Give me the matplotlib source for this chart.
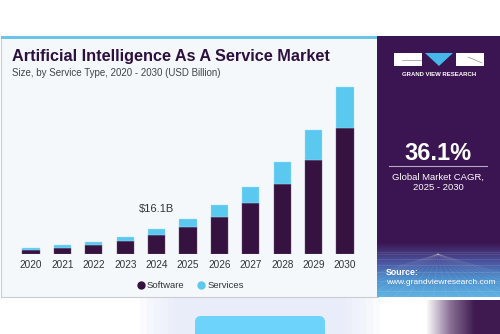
import matplotlib
matplotlib.use("Agg")
import matplotlib.pyplot as plt
import numpy as np
from matplotlib.patches import Rectangle, Polygon, FancyBboxPatch
from matplotlib.lines import Line2D
from matplotlib.colors import LinearSegmentedColormap

years = ["2020", "2021", "2022", "2023", "2024", "2025", "2026", "2027", "2028", "2029", "2030"]
software = [2.8, 4.1, 6.0, 8.6, 12.4, 17.2, 24.0, 33.0, 44.9, 60.5, 81.0]
services = [1.1, 1.5, 1.7, 2.6, 3.7, 5.5, 7.5, 10.3, 14.6, 19.3, 26.3]
annot_label = "$16.1B"
annot_index = 4

C_SW = "#35123f"
C_SV = "#5bc8f0"
C_PANEL = "#3b1551"
FONT = "Liberation Sans"

W, H = 500, 334
fig = plt.figure(figsize=(W / 100, H / 100), dpi=100)
fig.patch.set_facecolor("white")

# decoration axes in pixel coordinates
bg = fig.add_axes([0, 0, 1, 1])
bg.set_xlim(0, W)
bg.set_ylim(H, 0)
bg.axis("off")

# blurred background below card
for i in range(6):
    bg.add_patch(Rectangle((175 - i * 7, 297), 170 + i * 14, 37, color="#d5dcf7", alpha=0.10, lw=0))
bg.add_patch(FancyBboxPatch((197, 318), 126, 30, boxstyle="round,pad=2,rounding_size=6",
                            color="#6dd3fb", lw=0))
grad = np.linspace(0, 1, 40).reshape(1, -1)
cm_p = LinearSegmentedColormap.from_list("p", ["#ffffff", "#8a7096", "#3f1a50", "#3f1a50"])
bg.imshow(grad, extent=(425, 500, 334, 300), cmap=cm_p, aspect="auto", zorder=1)

# card
bg.add_patch(Rectangle((0.5, 36), 377, 261, facecolor="#f4f8fb", edgecolor="#c9ccd2", lw=0.8, zorder=2))
bg.add_patch(Rectangle((0.5, 36), 377, 3, facecolor="#6cc5e8", lw=0, zorder=3))

# right panel
bg.add_patch(Rectangle((377, 36), 123, 261, facecolor=C_PANEL, lw=0, zorder=3))
cm_g = LinearSegmentedColormap.from_list("g", [C_PANEL, "#4a4f9a", "#4d8fcd", "#5fb2e4"])
gv = np.linspace(0, 1, 60).reshape(-1, 1)
bg.imshow(gv, extent=(377, 500, 297, 242), cmap=cm_g, aspect="auto", zorder=4)
# perspective grid
hy = 252
for k in range(9):
    y = hy + (k ** 1.6) * 2.2
    if y < 297:
        bg.plot([377, 500], [y, y], color="white", alpha=0.14, lw=0.5, zorder=5)
for xb in np.linspace(300, 580, 22):
    bg.plot([438, xb], [hy + 2, 297], color="white", alpha=0.10, lw=0.5, zorder=5)

# logo
bg.add_patch(Rectangle((394, 53), 28, 13, facecolor="white", lw=0, zorder=6))
bg.add_patch(Rectangle((456, 53), 28, 13, facecolor="white", lw=0, zorder=6))
bg.add_patch(Polygon([[425, 53], [453, 53], [439, 66]], closed=True, facecolor="#45b8ea", lw=0, zorder=6))
bg.plot([402, 421], [60, 60], color="#777777", lw=0.4, zorder=7)
bg.plot([468, 482], [57, 63], color="#777777", lw=0.4, zorder=7)
bg.text(439, 74.5, "GRAND VIEW RESEARCH", color="white", fontsize=4.3, fontweight="bold",
        ha="center", va="center", family=FONT, zorder=7)

bg.text(438, 153, "36.1%", color="white", fontsize=17, fontweight="bold",
        ha="center", va="center", family=FONT, zorder=7)
bg.plot([389, 487], [166, 166], color="#b9a9c6", lw=0.8, zorder=7)
bg.text(438, 177, "Global Market CAGR,", color="white", fontsize=6.8,
        ha="center", va="center", family=FONT, zorder=7)
bg.text(438, 187.5, "2025 - 2030", color="white", fontsize=6.8,
        ha="center", va="center", family=FONT, zorder=7)
bg.text(386, 272.5, "Source:", color="white", fontsize=6.3, fontweight="bold",
        ha="left", va="center", family=FONT, zorder=7)
bg.text(386, 282.5, "www.grandviewresearch.com", color="white", fontsize=6.0,
        ha="left", va="center", family=FONT, zorder=7)

# titles
bg.text(12, 57, "Artificial Intelligence As A Service Market", color="#2d1040", fontsize=11.7,
        fontweight="heavy", ha="left", va="center", family=FONT, zorder=7)
bg.text(12, 72.5, "Size, by Service Type, 2020 - 2030 (USD Billion)", color="#444444", fontsize=7,
        ha="left", va="center", family=FONT, zorder=7)

# chart axes
unit = 31.4
x0, x10 = 31, 345
left = x0 - 0.6 * unit
right = x10 + 0.6 * unit
base = 254
ymax = 110
hpx = ymax / 0.644
ax = fig.add_axes([left / W, (H - base) / H, (right - left) / W, hpx / H])
ax.set_xlim(-0.6, 10.6)
ax.set_ylim(0, ymax)
ax.patch.set_alpha(0)
for s in ax.spines.values():
    s.set_visible(False)
ax.set_zorder(8)

x = np.arange(len(years))
ax.bar(x, software, width=0.55, color=C_SW, label="Software", edgecolor="#6a5080", linewidth=0.3)
ax.bar(x, services, width=0.55, bottom=software, color=C_SV, label="Services",
       edgecolor="#9fe0f8", linewidth=0.3)
ax.set_yticks([])
ax.set_xticks(x)
ax.set_xticklabels(years, fontsize=7.2, color="#333333", family=FONT)
ax.tick_params(axis="x", length=0, pad=4)

tot = software[annot_index] + services[annot_index]
ax.annotate(annot_label, (annot_index, tot), xytext=(0, 11), textcoords="offset points",
            ha="center", va="bottom", fontsize=8, color="#333333", family=FONT)

handles = [Line2D([], [], marker="o", ls="", color=C_SW, markersize=5, label="Software"),
           Line2D([], [], marker="o", ls="", color=C_SV, markersize=5, label="Services")]
fig.legend(handles=handles, loc="center", bbox_to_anchor=(190 / W, (H - 286) / H), ncol=2,
           frameon=False, prop={"family": FONT, "size": 6.8}, handletextpad=0.1,
           columnspacing=1.3, handlelength=1.0, labelcolor="#333333")

fig.savefig("out.png", dpi=100, facecolor="white")
